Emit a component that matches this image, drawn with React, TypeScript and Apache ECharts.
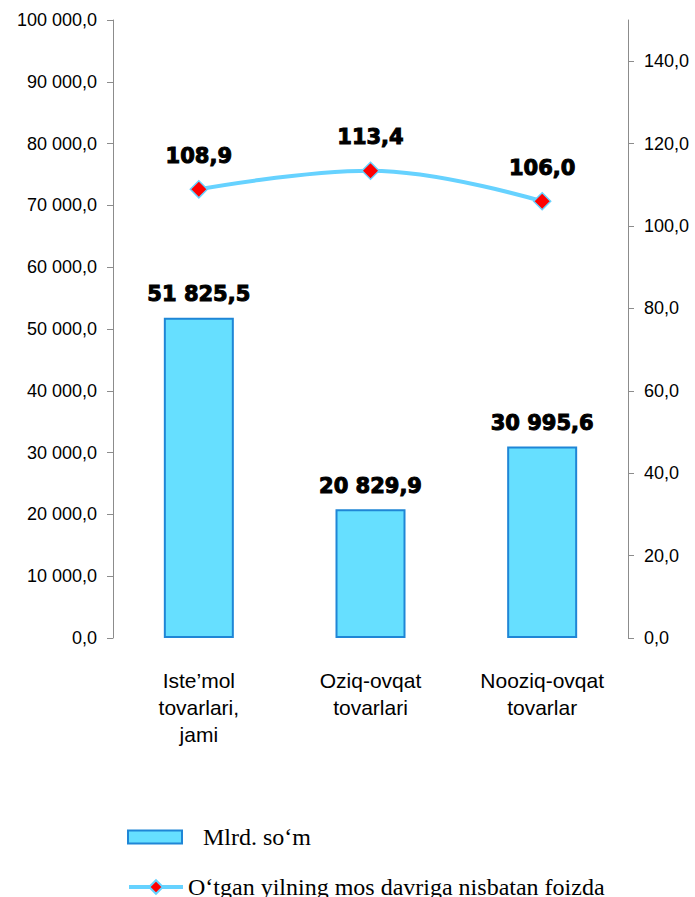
import React, { useEffect, useRef } from "react";
import * as echarts from "echarts";

const categories = ["Iste’mol\ntovarlari,\njami", "Oziq-ovqat\ntovarlari", "Nooziq-ovqat\ntovarlar"];
const volumeValues = [51825.5, 20829.9, 30995.6];
const growthValues = [108.9, 113.4, 106.0];
const rightTickValues = [0, 20, 40, 60, 80, 100, 120, 140];
const barName = "Mlrd. so‘m";
const lineName = "O‘tgan yilning mos davriga nisbatan foizda";

function fmt(v: number): string {
  const [i, d] = v.toFixed(1).split(".");
  return i.replace(/\B(?=(\d{3})+(?!\d))/g, " ") + "," + d;
}

const AXIS_COLOR = "#8c8c8c";
const BAR_FILL = "#66DFFF";
const BAR_BORDER = "#1F86D6";
const LINE_COLOR = "#66D2FF";

export default function App() {
  const ref = useRef<HTMLDivElement>(null);
  useEffect(() => {
    if (!ref.current) return;
    const chart = echarts.init(ref.current, null, { renderer: "svg" });
    chart.setOption({
      animation: false,
      backgroundColor: "#ffffff",
      grid: { left: 113, right: 67, top: 20, bottom: 259, containLabel: false },
      legend: [
        {
          data: [{ name: barName, icon: "rect" }],
          left: 127,
          top: 824,
          padding: 0,
          itemWidth: 54,
          itemHeight: 13,
          selectedMode: false,
          textStyle: {
            fontFamily: "Liberation Serif",
            fontSize: 24,
            lineHeight: 26,
            color: "#000",
            padding: [0, 0, 0, 16],
          },
        },
        {
          data: [{ name: lineName }],
          left: 127,
          top: 874,
          padding: 0,
          itemWidth: 54,
          itemHeight: 17,
          selectedMode: false,
          lineStyle: { width: 4, color: LINE_COLOR },
          textStyle: {
            fontFamily: "Liberation Serif",
            fontSize: 24,
            lineHeight: 26,
            color: "#000",
          },
        },
      ],
      xAxis: {
        type: "category",
        data: categories,
        boundaryGap: true,
        axisLine: { show: false },
        axisTick: { show: false },
        axisLabel: {
          interval: 0,
          margin: 29,
          fontFamily: "Liberation Sans",
          fontSize: 21,
          lineHeight: 27,
          color: "#000",
        },
      },
      yAxis: [
        {
          type: "value",
          min: 0,
          max: 100000,
          interval: 10000,
          position: "left",
          axisLine: { show: true, lineStyle: { color: AXIS_COLOR, width: 1 } },
          axisTick: { show: true, length: 6, lineStyle: { color: AXIS_COLOR } },
          splitLine: { show: false },
          axisLabel: {
            margin: 16,
            fontFamily: "Liberation Sans",
            fontSize: 18,
            color: "#000",
            formatter: (v: number) => fmt(v),
          },
        },
        {
          type: "value",
          min: 0,
          max: 150,
          position: "right",
          axisLine: { show: true, lineStyle: { color: AXIS_COLOR, width: 1 } },
          axisTick: {
            show: true,
            length: 6,
            lineStyle: { color: AXIS_COLOR },
            customValues: rightTickValues,
          },
          splitLine: { show: false },
          axisLabel: {
            margin: 16,
            fontFamily: "Liberation Sans",
            fontSize: 18,
            color: "#000",
            customValues: rightTickValues,
            formatter: (v: number) => fmt(v),
          },
        },
      ],
      series: [
        {
          name: barName,
          type: "bar",
          yAxisIndex: 0,
          data: volumeValues,
          barWidth: 70,
          itemStyle: { color: BAR_FILL, borderColor: BAR_BORDER, borderWidth: 2 },
          label: {
            show: true,
            position: "top",
            distance: 13,
            fontFamily: "DejaVu Sans",
            fontWeight: "bold",
            fontSize: 21,
            color: "#000",
            textBorderColor: "#000",
            textBorderWidth: 1,
            formatter: (p: any) => fmt(p.value),
          },
        },
        {
          name: lineName,
          type: "line",
          yAxisIndex: 1,
          data: growthValues,
          smooth: 0.4,
          symbol: "diamond",
          symbolSize: 17,
          lineStyle: { color: LINE_COLOR, width: 4 },
          itemStyle: { color: "#FF0000", borderColor: LINE_COLOR, borderWidth: 1.5 },
          label: {
            show: true,
            position: "top",
            distance: 14,
            fontFamily: "DejaVu Sans",
            fontWeight: "bold",
            fontSize: 21,
            color: "#000",
            textBorderColor: "#000",
            textBorderWidth: 1,
            formatter: (p: any) => fmt(p.value),
          },
        },
      ],
    });
    return () => chart.dispose();
  }, []);
  return (
    <div
      ref={ref}
      style={{ position: "fixed", left: 0, top: 0, width: 695, height: 897, background: "#fff" }}
    />
  );
}
